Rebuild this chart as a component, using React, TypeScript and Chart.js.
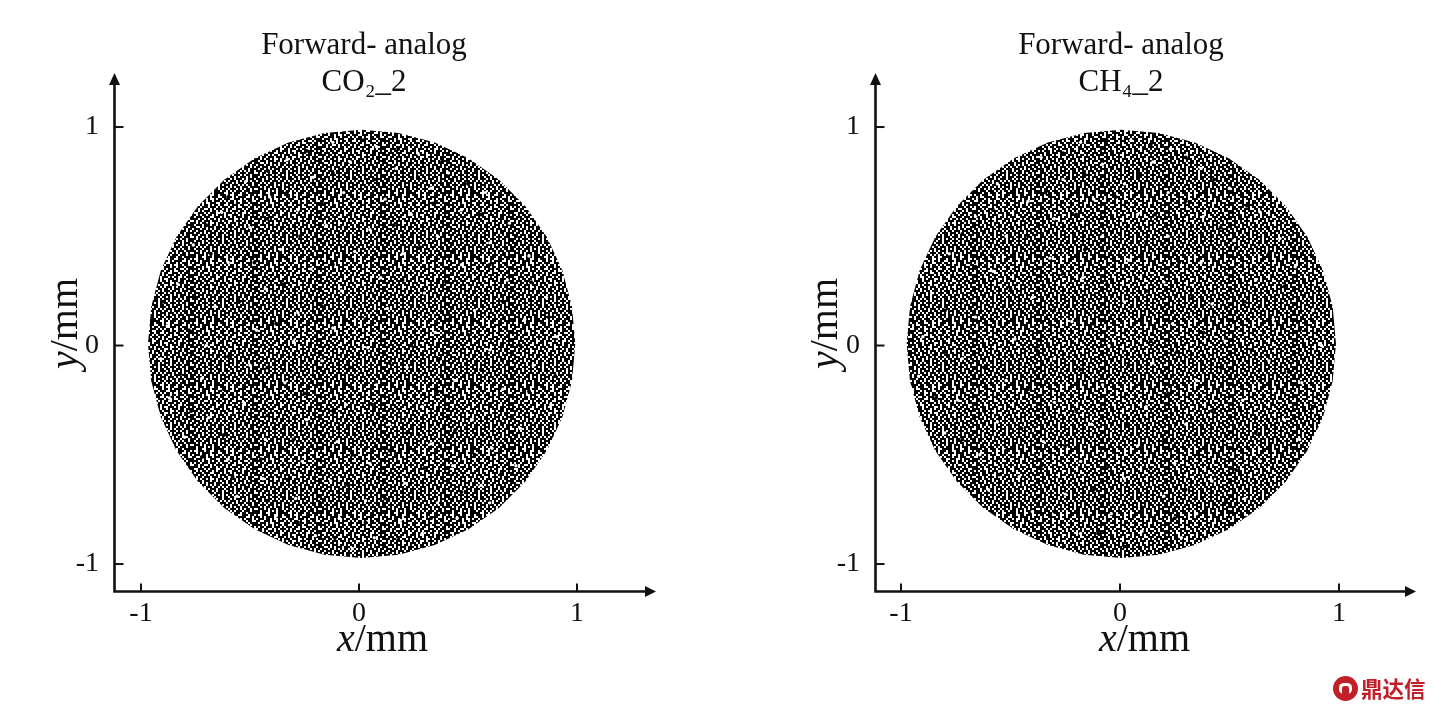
import React, { useEffect, useRef } from "react";
import { Chart, registerables } from "chart.js";

Chart.register(...registerables);

const tickValues = [-1, 0, 1];
const titleLine1 = "Forward- analog";
const leftGas = "CO₂_2";
const rightGas = "CH₄_2";

// Edge of each particle cloud.
const leftEdge: number[][] = [[.992,.008],[.977,.178],[.933,.343],[.861,.498],[.763,.638],[.642,.759],[.502,.857],[.347,.929],[.182,.973],[.012,.988],[-.158,.973],[-.323,.929],[-.478,.857],[-.618,.759],[-.739,.638],[-.837,.498],[-.909,.343],[-.953,.178],[-.968,.008],[-.953,-.162],[-.909,-.327],[-.837,-.482],[-.739,-.622],[-.618,-.743],[-.478,-.841],[-.323,-.913],[-.158,-.957],[.012,-.972],[.182,-.957],[.347,-.913],[.502,-.841],[.642,-.743],[.763,-.622],[.861,-.482],[.933,-.327],[.977,-.162],[.992,.008]];
const rightEdge: number[][] = [[.986,.008],[.971,.178],[.927,.343],[.855,.498],[.757,.638],[.636,.759],[.496,.857],[.341,.929],[.176,.973],[.006,.988],[-.164,.973],[-.329,.929],[-.484,.857],[-.624,.759],[-.745,.638],[-.843,.498],[-.915,.343],[-.959,.178],[-.974,.008],[-.959,-.162],[-.915,-.327],[-.843,-.482],[-.745,-.622],[-.624,-.743],[-.484,-.841],[-.329,-.913],[-.164,-.957],[.006,-.972],[.176,-.957],[.341,-.913],[.496,-.841],[.636,-.743],[.757,-.622],[.855,-.482],[.927,-.327],[.971,-.162],[.986,.008]];

// Hand-placed sample of the grain: the real cloud is far too dense to read dot by dot.
const leftLight: number[][] = [[-.12,.93],[.08,.91],[.27,.88],[-.33,.85],[-.04,.84],[.17,.81],[.41,.79],[-.52,.75],[-.21,.77],[.33,.72],[.58,.7],[-.41,.68],[-.07,.7],[.12,.67],[-.63,.61],[-.28,.62],[.24,.6],[.47,.62],[.69,.56],[-.5,.54],[-.15,.55],[.05,.53],[.36,.5],[.6,.47],[-.76,.46],[-.36,.44],[-.02,.43],[.2,.42],[.78,.41],[-.6,.38],[-.22,.35],[.47,.37],[.1,.31],[.68,.3],[-.83,.28],[-.43,.26],[-.08,.25],[.3,.24],[.86,.22],[-.66,.18],[-.28,.15],[.13,.17],[.53,.16],[.76,.12],[-.88,.09],[-.47,.07],[-.12,.08],[.35,.06],[.91,.04],[-.7,.0],[-.3,.02],[.04,-.01],[.6,-.02],[-.91,-.06],[-.5,-.09],[-.17,-.07],[.22,-.1],[.8,-.09],[-.72,-.15],[-.34,-.17],[.08,-.18],[.44,-.16],[.66,-.2],[-.87,-.24],[-.53,-.26],[-.06,-.27],[.29,-.28],[.88,-.27],[-.69,-.33],[-.24,-.34],[.14,-.36],[.52,-.34],[.74,-.38],[-.8,-.42],[-.43,-.43],[-.1,-.44],[.33,-.45],[.61,-.47],[-.6,-.52],[-.26,-.53],[.05,-.54],[.43,-.55],[.72,-.55],[-.44,-.61],[-.13,-.62],[.21,-.63],[.56,-.64],[-.56,-.69],[-.29,-.7],[.03,-.71],[.36,-.72],[.6,-.72],[-.38,-.78],[-.09,-.79],[.19,-.8],[.45,-.79],[-.2,-.87],[.07,-.88],[.29,-.86],[-.03,-.93]];
const leftDark: number[][] = [[.02,.94],[-.24,.89],[.18,.9],[.38,.84],[-.42,.8],[-.12,.79],[.07,.76],[.27,.77],[.5,.74],[-.6,.68],[-.33,.7],[-.17,.65],[.34,.65],[.56,.6],[-.7,.55],[-.42,.58],[-.04,.6],[.16,.55],[.72,.5],[-.27,.5],[.43,.43],[.28,.45],[-.68,.42],[-.48,.38],[-.12,.37],[.06,.39],[.6,.37],[-.9,.2],[-.75,.22],[-.35,.28],[.2,.3],[.4,.29],[.79,.29],[-.55,.2],[-.17,.18],[.03,.12],[.42,.13],[.66,.2],[.87,.13],[-.78,.07],[-.38,.1],[.24,.0],[.5,.05],[.74,.0],[-.6,-.05],[-.04,-.1],[.37,-.06],[.9,-.14],[-.82,-.13],[-.42,-.1],[-.25,-.22],[.14,-.08],[.56,-.11],[-.62,-.2],[-.12,-.3],[.36,-.21],[.78,-.21],[-.77,-.3],[-.42,-.32],[.06,-.27],[.6,-.27],[-.62,-.41],[-.3,-.43],[.22,-.4],[.44,-.39],[.83,-.37],[-.72,-.51],[-.45,-.52],[-.03,-.5],[.14,-.48],[.53,-.5],[-.58,-.6],[-.32,-.61],[-.05,-.64],[.3,-.56],[.65,-.59],[-.42,-.71],[-.18,-.72],[.12,-.7],[.47,-.67],[-.28,-.81],[.03,-.81],[.33,-.79],[-.11,-.88],[.18,-.89]];
const rightLight: number[][] = [[-.18,.93],[.05,.94],[.23,.9],[-.36,.86],[-.08,.83],[.15,.84],[.37,.81],[-.56,.74],[-.26,.76],[.02,.74],[.5,.72],[-.42,.66],[-.12,.67],[.22,.7],[.64,.61],[-.66,.59],[-.3,.58],[.08,.6],[.38,.59],[.73,.49],[-.52,.5],[-.08,.5],[.22,.5],[.52,.48],[-.78,.42],[-.32,.4],[.04,.39],[.37,.38],[.8,.36],[-.58,.34],[-.17,.31],[.2,.29],[.62,.3],[-.86,.24],[-.4,.22],[.02,.2],[.42,.19],[.88,.16],[-.66,.13],[-.22,.11],[.24,.1],[.7,.12],[-.9,.04],[-.48,.03],[-.05,.0],[.48,.02],[.92,.0],[-.72,-.06],[-.3,-.06],[.15,-.08],[.68,-.07],[-.92,-.14],[-.52,-.16],[-.08,-.18],[.35,-.16],[.83,-.17],[-.74,-.25],[-.3,-.26],[.12,-.28],[.56,-.25],[-.56,-.35],[-.13,-.36],[.3,-.36],[.75,-.34],[-.8,-.4],[-.35,-.44],[.08,-.46],[.5,-.44],[.82,-.43],[-.64,-.5],[-.18,-.53],[.25,-.54],[.64,-.53],[-.46,-.6],[.02,-.61],[.42,-.62],[-.6,-.66],[-.25,-.68],[.2,-.69],[.57,-.7],[-.4,-.76],[-.04,-.77],[.35,-.77],[-.18,-.86],[.1,-.85],[.28,-.88]];
const rightDark: number[][] = [[-.06,.94],[.14,.92],[-.26,.88],[.3,.86],[-.46,.79],[-.16,.78],[.09,.78],[.43,.76],[-.34,.7],[-.02,.68],[.3,.66],[.58,.64],[-.58,.62],[-.2,.6],[.16,.6],[.46,.54],[-.72,.51],[-.42,.5],[-.16,.44],[.12,.47],[.68,.42],[-.66,.36],[-.26,.33],[.27,.38],[.5,.32],[.75,.27],[-.5,.26],[-.06,.28],[.12,.25],[.33,.22],[-.8,.16],[-.3,.16],[.57,.2],[-.55,.1],[-.12,.1],[.14,.02],[.38,.06],[.82,.07],[-.8,-.03],[-.38,-.02],[.04,-.09],[.26,-.03],[.6,-.02],[-.62,-.1],[-.18,-.11],[.46,-.1],[.77,-.12],[-.84,-.24],[-.42,-.2],[.22,-.22],[.64,-.16],[-.62,-.3],[-.2,-.3],[.03,-.36],[.42,-.3],[.88,-.28],[-.72,-.43],[-.45,-.38],[.2,-.44],[.62,-.4],[-.52,-.48],[-.25,-.46],[.36,-.5],[.76,-.47],[-.36,-.55],[-.06,-.56],[.14,-.56],[.53,-.57],[-.55,-.59],[-.12,-.66],[.3,-.66],[.48,-.72],[-.3,-.76],[.1,-.74],[.25,-.79],[-.1,-.86],[.02,-.92]];

// Fill style only: a hand-typed grain swatch for the disc ('#' ink, '.' paper). It carries no data.
const grainTile = [
  "##.##..###.#####..##.###.##.####",
  "#..###.##..##.###.#..##..###.##.",
  "##.#.####.###..##.##.#.####..#.#",
  ".###.##.#..#.##.###..###.#.###.#",
  "##..###.##.###.#.#.##.#..##.##..",
  "#.###.#..###..###.###.##.###.###",
  "###.#.##.#.##.##..#.###.##..#.##",
  "#.##.###.###.#.###.##.#..###.##.",
  ".##.##..#.#.###.#.##..###.#.###.",
  "###.#.###.##.#.##.#.###.##.##.##",
  "#..###.#.###..##.###.#.##..#.###",
  "##.#.##.##.#.###.#..###.#.###.#.",
  "#.###.###..###.#.##.#.###.##.###",
  "###.##.#.##.#.###.###..#.###.#.#",
  ".#.##.###.###.#.##..#.###.#.###.",
  "##.#.##.#..#.###.#.###.#.##.##.#",
  "#.###.###.##.#.##.##.#.###.#.###",
  "##..#.#.###.###.#.###.##.#.###.#",
  ".###.##.#.#.##.###.#.##.###.#.##",
  "##.###.###.##.#.#.###.#.#.###.#.",
  "#.##.#.#.###.###.##.#.###.##.###",
  "###.###.##.#.##.#.###.##.#.#.##.",
  ".#.##.#.###.###.###.#.#.###.###.",
  "##.#.###.#.##.#.#.##.###.#.##.##",
  "#.###.#.###.###.##.##.#.###.#.##",
  "###.#.##.#.#.##.###.#.###.#.###.",
  ".##.###.###.##.#.#.###.#.##.#.##",
  "##.#.#.##.###.###.##.#.###.###.#",
  "#.###.###.#.#.#.###.###.#.#.##.#",
  "##.#.##.#.###.###.#.#.##.###.###",
  ".###.#.###.##.#.##.###.#.#.##.#.",
  "##.###.#.#.###.##.#.#.###.###.##",
];

const serif = "'Liberation Serif', serif";

type Panel = {
  gas: string; edge: number[][]; light: number[][]; dark: number[][]; mirror: boolean;
  padLeft: number; padRight: number;
  xMin: number; xMax: number; tipX: number; xLabelX: number; yLabelX: number;
};

const panels: Panel[] = [
  { gas: leftGas, edge: leftEdge, light: leftLight, dark: leftDark, mirror: false, padLeft: 73, padRight: 62, xMin: -1.1239, xMax: 1.3578, tipX: 656, xLabelX: 337, yLabelX: 68 },
  { gas: rightGas, edge: rightEdge, light: rightLight, dark: rightDark, mirror: true, padLeft: 116, padRight: 27, xMin: -1.1187, xMax: 1.315, tipX: 698, xLabelX: 381, yLabelX: 110 },
];

function grainPattern(mirror: boolean): CanvasPattern | string {
  const cell = 2;
  const tile = document.createElement("canvas");
  tile.width = grainTile[0].length * cell;
  tile.height = grainTile.length * cell;
  const c = tile.getContext("2d") as CanvasRenderingContext2D;
  c.fillStyle = "#fff";
  c.fillRect(0, 0, tile.width, tile.height);
  c.fillStyle = "#000";
  grainTile.forEach((row, j) => {
    const text = mirror ? row.split("").reverse().join("") : row;
    text.split("").forEach((ch, i) => {
      if (ch === "#") c.fillRect(i * cell, j * cell, cell, cell);
    });
  });
  return c.createPattern(tile, "repeat") || "#4d4d4d";
}

const axisPlugin = {
  id: "arrowAxes",
  afterDraw(chart: any, _a: any, opts: any) {
    const { ctx, chartArea: a, scales } = chart;
    const left = a.left + 0.5, bottom = a.bottom - 0.5;
    ctx.save();
    ctx.strokeStyle = "#111"; ctx.fillStyle = "#111"; ctx.lineWidth = 2.6;
    ctx.beginPath();
    ctx.moveTo(left, 84); ctx.lineTo(left, bottom);
    ctx.lineTo(opts.tipX - 8, bottom);
    ctx.stroke();
    ctx.beginPath();
    ctx.moveTo(left, 73); ctx.lineTo(left - 5.5, 85); ctx.lineTo(left + 5.5, 85); ctx.closePath(); ctx.fill();
    ctx.beginPath();
    ctx.moveTo(opts.tipX, bottom); ctx.lineTo(opts.tipX - 11, bottom - 5.5); ctx.lineTo(opts.tipX - 11, bottom + 5.5); ctx.closePath(); ctx.fill();
    ctx.lineWidth = 2;
    for (const v of tickValues) {
      const px = scales.x.getPixelForValue(v), py = scales.y.getPixelForValue(v);
      ctx.beginPath(); ctx.moveTo(px, bottom); ctx.lineTo(px, bottom - 8); ctx.stroke();
      ctx.beginPath(); ctx.moveTo(left, py); ctx.lineTo(left + 9, py); ctx.stroke();
    }
    ctx.textBaseline = "alphabetic"; ctx.textAlign = "left";
    ctx.font = `italic 40px ${serif}`;
    ctx.fillText("x", opts.xLabelX, 651);
    const w = ctx.measureText("x").width;
    ctx.font = `40px ${serif}`;
    ctx.fillText("/mm", opts.xLabelX + w, 651);
    ctx.translate(opts.yLabelX + 9, 369);
    ctx.rotate(-Math.PI / 2);
    ctx.font = `italic 40px ${serif}`;
    ctx.fillText("y", 0, 0);
    const yw = ctx.measureText("y").width;
    ctx.font = `40px ${serif}`;
    ctx.fillText("/mm", yw, 0);
    ctx.restore();
  },
};

function buildConfig(p: Panel): any {
  const toPts = (list: number[][]) => list.map(([x, y]) => ({ x, y }));
  return {
    type: "scatter",
    data: {
      datasets: [
        { label: "grain light", data: toPts(p.light), pointRadius: 1.7, pointBackgroundColor: "#fff", pointBorderWidth: 0, order: 1 },
        { label: "grain dark", data: toPts(p.dark), pointRadius: 2, pointBackgroundColor: "#000", pointBorderWidth: 0, order: 2 },
        { label: "particles", data: toPts(p.edge), showLine: true, fill: "shape", tension: 0, backgroundColor: grainPattern(p.mirror), borderWidth: 0, pointRadius: 0, order: 3 },
      ],
    },
    plugins: [axisPlugin],
    options: {
      animation: false,
      responsive: false,
      devicePixelRatio: 1,
      layout: { padding: { left: p.padLeft, right: p.padRight, top: 0, bottom: 0 } },
      plugins: {
        legend: { display: false },
        tooltip: { enabled: false },
        title: {
          display: true,
          text: [titleLine1, p.gas],
          color: "#111",
          font: { family: serif, size: 31, weight: "normal", lineHeight: 1.194 },
          padding: { top: 27, bottom: -1 },
        },
        arrowAxes: { tipX: p.tipX, xLabelX: p.xLabelX, yLabelX: p.yLabelX },
      },
      scales: {
        x: {
          type: "linear", min: p.xMin, max: p.xMax,
          grid: { display: false, drawTicks: false },
          border: { display: false },
          afterFit: (s: any) => { s.height = 119; },
          afterBuildTicks: (s: any) => { s.ticks = tickValues.map((value) => ({ value })); },
          ticks: { padding: 5, color: "#111", font: { family: serif, size: 28 }, maxRotation: 0, callback: (v: number) => String(v) },
        },
        y: {
          type: "linear", min: -1.128, max: 1.1236,
          grid: { display: false, drawTicks: false },
          border: { display: false },
          afterFit: (s: any) => { s.width = 41; },
          afterBuildTicks: (s: any) => { s.ticks = tickValues.map((value) => ({ value })); },
          ticks: { padding: 15, color: "#111", font: { family: serif, size: 28 }, callback: (v: number) => String(v) },
        },
      },
    },
  };
}

function Panel({ panel, left }: { panel: Panel; left: number }) {
  const ref = useRef<HTMLCanvasElement>(null);
  useEffect(() => {
    const chart = new Chart(ref.current as HTMLCanvasElement, buildConfig(panel));
    return () => chart.destroy();
  }, [panel]);
  return <canvas ref={ref} width={717} height={711} style={{ position: "absolute", left, top: 0, width: 717, height: 711 }} />;
}

export default function App() {
  return (
    <div style={{ position: "fixed", left: 0, top: 0, width: 1435, height: 711, background: "#fff", overflow: "hidden" }}>
      <Panel panel={panels[0]} left={0} />
      <Panel panel={panels[1]} left={718} />
      <div style={{ position: "absolute", left: 1333, top: 676, width: 25, height: 25, borderRadius: "50%", background: "#c1202b" }}>
        <div style={{ position: "absolute", left: 6, top: 7, width: 13, height: 11, borderRadius: "40%", background: "#fff" }} />
        <div style={{ position: "absolute", left: 9, top: 10, width: 7, height: 10, borderRadius: "30%", background: "#c1202b" }} />
      </div>
      <div style={{ position: "absolute", left: 1361, top: 672, fontFamily: "'Noto Sans CJK SC', sans-serif", fontWeight: 700, fontSize: 21.5, lineHeight: "32px", color: "#c1202b", whiteSpace: "nowrap" }}>鼎达信</div>
    </div>
  );
}
